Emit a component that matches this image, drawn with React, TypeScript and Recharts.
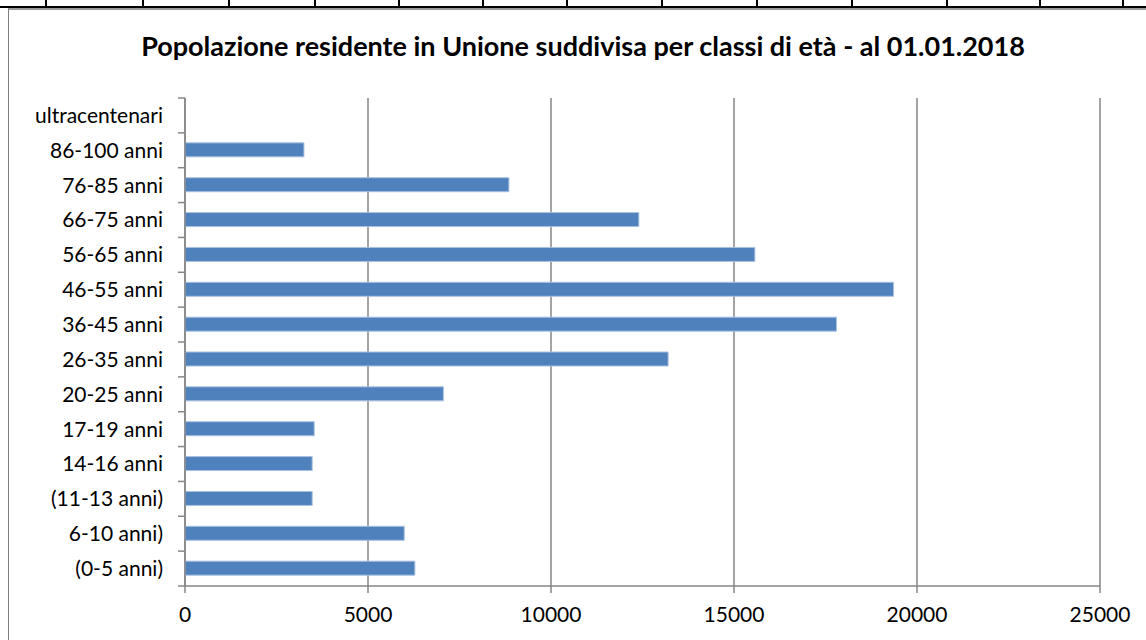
import { Bar, BarChart, CartesianGrid, XAxis, YAxis } from "recharts"

const classi = [
  "ultracentenari",
  "86-100 anni",
  "76-85 anni",
  "66-75 anni",
  "56-65 anni",
  "46-55 anni",
  "36-45 anni",
  "26-35 anni",
  "20-25 anni",
  "17-19 anni",
  "14-16 anni",
  "(11-13 anni)",
  "6-10 anni)",
  "(0-5 anni)",
]

const residenti = [0, 3250, 8850, 12400, 15570, 19360, 17800, 13200, 7060, 3530, 3475, 3475, 5990, 6280]

const xTicks = [0, 5000, 10000, 15000, 20000, 25000]

// spreadsheet cell borders visible above the chart
const sheetCols = [45, 142, 228, 314, 398, 482, 566, 661, 756, 851, 946, 1039, 1122]

const data = classi.map((classe, i) => ({ classe, valore: residenti[i] }))

const grey = "#868686"
const font = "Lato, 'Open Sans', sans-serif"
const TICK = 7
const GAP = 15

// label plus an Excel-style tick mark on the band edge (not the band centre)
function CategoryTick(props: any) {
  const { x, y, payload, index } = props
  const half = payload.offset || 0
  const axisX = x + TICK + GAP
  return (
    <g>
      <line x1={axisX - TICK} x2={axisX} y1={y - half} y2={y - half} stroke={grey} strokeWidth={1.5} />
      {index === classi.length - 1 && (
        <line x1={axisX - TICK} x2={axisX} y1={y + half} y2={y + half} stroke={grey} strokeWidth={1.5} />
      )}
      <text x={x} y={y} dy="0.355em" textAnchor="end" fill="#000" fontSize={21} fontFamily={font}>
        {payload.value}
      </text>
    </g>
  )
}

export default function App() {
  return (
    <div style={{ position: "absolute", left: 0, top: 0, width: 1146, height: 640, overflow: "hidden", background: "#fff" }}>
      <div style={{ position: "absolute", left: 0, top: 6, width: 1146, height: 2, background: "#000" }} />
      {sheetCols.map((x) => (
        <div key={x} style={{ position: "absolute", left: x, top: 0, width: 2, height: 7, background: "#000" }} />
      ))}
      <div
        style={{
          position: "absolute",
          left: 8,
          top: 8,
          width: 1200,
          height: 700,
          borderLeft: "1.5px solid #7f7f7f",
          borderTop: "2px solid #9a9a9a",
        }}
      />
      <div
        style={{
          position: "absolute",
          left: 0,
          top: 29,
          width: 1166,
          textAlign: "center",
          fontFamily: font,
          fontWeight: 700,
          fontSize: 27,
          color: "#000",
        }}
      >
        Popolazione residente in Unione suddivisa per classi di età - al 01.01.2018
      </div>
      <div style={{ position: "absolute", left: 0, top: 0 }}>
        <BarChart
          width={1146}
          height={640}
          data={data}
          layout="vertical"
          margin={{ top: 98, right: 46, left: 8, bottom: 24 }}
        >
          <CartesianGrid horizontal={false} stroke={grey} strokeWidth={1.5} yAxisId="cat" />
          <XAxis
            type="number"
            domain={[0, 25000]}
            ticks={xTicks}
            interval={0}
            height={30}
            stroke={grey}
            strokeWidth={1.5}
            tickSize={TICK}
            tickMargin={14}
            tick={{ fill: "#000", fontSize: 21, fontFamily: font }}
          />
          <YAxis
            yAxisId="cat"
            type="category"
            dataKey="classe"
            width={177}
            interval={0}
            stroke={grey}
            strokeWidth={1.5}
            tickLine={false}
            tickSize={TICK}
            tickMargin={GAP}
            tick={<CategoryTick />}
          />
          <Bar
            yAxisId="cat"
            dataKey="valore"
            fill="#4f81bd"
            stroke="#a9c1e0"
            strokeWidth={1}
            barSize={14}
            isAnimationActive={false}
          />
        </BarChart>
      </div>
    </div>
  )
}
